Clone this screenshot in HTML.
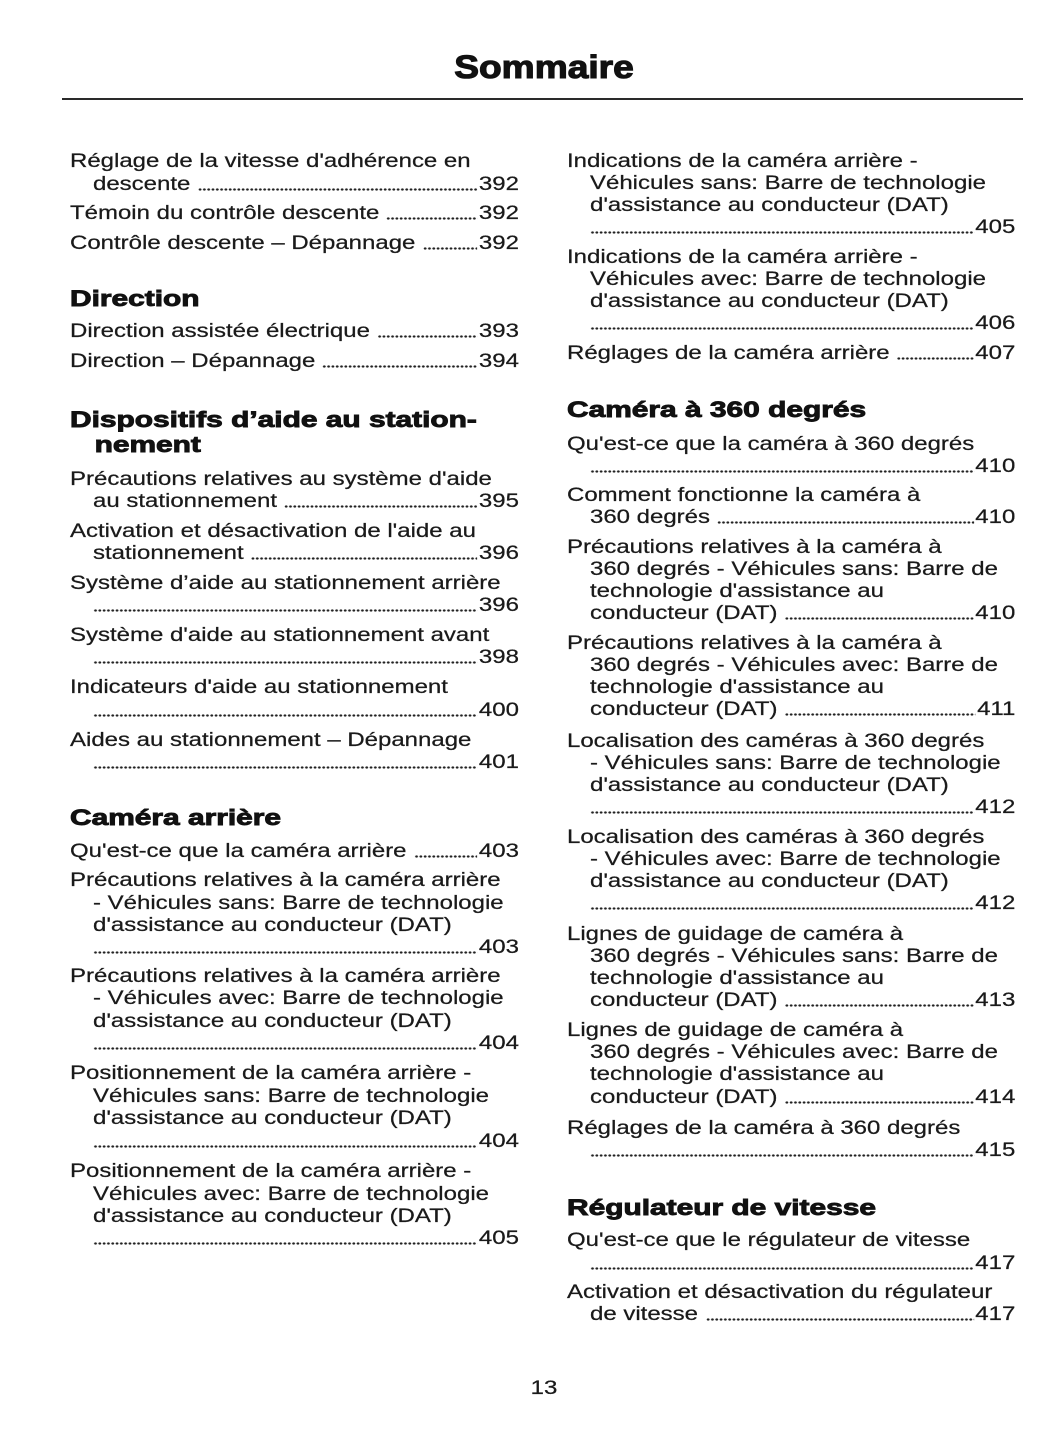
<!DOCTYPE html>
<html>
<head>
<meta charset="utf-8">
<style>
body{margin:0;background:#fff;}
#p{position:relative;width:1055px;height:1448px;overflow:hidden;background:#fff;font-family:"Liberation Sans",Arial,sans-serif;color:#1a1a1a;}
.title{position:absolute;left:543.5px;top:49.4px;font-size:32px;line-height:36px;font-weight:bold;white-space:nowrap;color:#111;-webkit-text-stroke:1.1px #111;transform:translateX(-50%) scaleX(1.16);transform-origin:50% 0;}
.rule{position:absolute;left:62px;width:961px;top:98px;height:2px;background:#2a2a2a;}
.c{position:absolute;top:0;width:365px;height:1448px;transform:scaleX(1.23);transform-origin:0 0;}
.r{position:absolute;left:0;right:0;height:22px;line-height:22px;font-size:19.5px;display:flex;white-space:nowrap;-webkit-text-stroke:0.25px #1a1a1a;}
.i{left:18.7px;}
.d{flex:1 1 auto;height:3px;margin:15.2px 1px 0 6px;background:radial-gradient(circle,#222 0.95px,rgba(255,255,255,0) 1.35px) 0 0/3.5px 3px repeat-x;}
.o{margin-left:0;}
.h{position:absolute;left:0;height:25px;line-height:25px;font-size:22.5px;font-weight:bold;white-space:nowrap;transform:scaleX(1.08);transform-origin:0 0;color:#111;-webkit-text-stroke:0.9px #111;}
.hi{left:20.3px;}
.pn{position:absolute;left:543.5px;top:1377.2px;font-size:19.5px;line-height:22px;white-space:nowrap;-webkit-text-stroke:0.25px #1a1a1a;transform:translateX(-50%) scaleX(1.23);transform-origin:50% 0;}
</style>
</head>
<body>
<div id="p">
<div class="title">Sommaire</div>
<div class="rule"></div>

<div class="c" style="left:70px;">
<div class="r" style="top:150.2px">Réglage de la vitesse d'adhérence en</div>
<div class="r i" style="top:172.7px">descente<span class="d"></span><span>392</span></div>
<div class="r" style="top:201.7px">Témoin du contrôle descente<span class="d"></span><span>392</span></div>
<div class="r" style="top:231.7px">Contrôle descente – Dépannage<span class="d"></span><span>392</span></div>

<div class="h" style="top:286.2px">Direction</div>
<div class="r" style="top:320.2px">Direction assistée électrique<span class="d"></span><span>393</span></div>
<div class="r" style="top:350.2px">Direction – Dépannage<span class="d"></span><span>394</span></div>

<div class="h" style="top:406.7px">Dispositifs d’aide au station-</div>
<div class="h hi" style="top:431.7px">nement</div>
<div class="r" style="top:467.7px">Précautions relatives au système d'aide</div>
<div class="r i" style="top:490.2px">au stationnement<span class="d"></span><span>395</span></div>
<div class="r" style="top:519.7px">Activation et désactivation de l'aide au</div>
<div class="r i" style="top:542.2px">stationnement<span class="d"></span><span>396</span></div>
<div class="r" style="top:571.7px">Système d’aide au stationnement arrière</div>
<div class="r i" style="top:594.2px"><span class="d o"></span><span>396</span></div>
<div class="r" style="top:623.7px">Système d'aide au stationnement avant</div>
<div class="r i" style="top:646.2px"><span class="d o"></span><span>398</span></div>
<div class="r" style="top:676.2px">Indicateurs d'aide au stationnement</div>
<div class="r i" style="top:698.7px"><span class="d o"></span><span>400</span></div>
<div class="r" style="top:728.7px">Aides au stationnement – Dépannage</div>
<div class="r i" style="top:751.2px"><span class="d o"></span><span>401</span></div>

<div class="h" style="top:805.2px">Caméra arrière</div>
<div class="r" style="top:839.7px">Qu'est-ce que la caméra arrière<span class="d"></span><span>403</span></div>
<div class="r" style="top:869.2px">Précautions relatives à la caméra arrière</div>
<div class="r i" style="top:891.7px">- Véhicules sans: Barre de technologie</div>
<div class="r i" style="top:913.7px">d'assistance au conducteur (DAT)</div>
<div class="r i" style="top:936.2px"><span class="d o"></span><span>403</span></div>
<div class="r" style="top:964.7px">Précautions relatives à la caméra arrière</div>
<div class="r i" style="top:987.2px">- Véhicules avec: Barre de technologie</div>
<div class="r i" style="top:1009.7px">d'assistance au conducteur (DAT)</div>
<div class="r i" style="top:1032.2px"><span class="d o"></span><span>404</span></div>
<div class="r" style="top:1062.2px">Positionnement de la caméra arrière -</div>
<div class="r i" style="top:1084.7px">Véhicules sans: Barre de technologie</div>
<div class="r i" style="top:1106.7px">d'assistance au conducteur (DAT)</div>
<div class="r i" style="top:1129.7px"><span class="d o"></span><span>404</span></div>
<div class="r" style="top:1160.2px">Positionnement de la caméra arrière -</div>
<div class="r i" style="top:1182.7px">Véhicules avec: Barre de technologie</div>
<div class="r i" style="top:1204.7px">d'assistance au conducteur (DAT)</div>
<div class="r i" style="top:1226.7px"><span class="d o"></span><span>405</span></div>
</div>

<div class="c" style="left:567px;width:364.5px;">
<div class="r" style="top:149.7px">Indications de la caméra arrière -</div>
<div class="r i" style="top:171.7px">Véhicules sans: Barre de technologie</div>
<div class="r i" style="top:193.7px">d'assistance au conducteur (DAT)</div>
<div class="r i" style="top:215.7px"><span class="d o"></span><span>405</span></div>
<div class="r" style="top:245.7px">Indications de la caméra arrière -</div>
<div class="r i" style="top:267.7px">Véhicules avec: Barre de technologie</div>
<div class="r i" style="top:289.7px">d'assistance au conducteur (DAT)</div>
<div class="r i" style="top:311.7px"><span class="d o"></span><span>406</span></div>
<div class="r" style="top:341.7px">Réglages de la caméra arrière<span class="d"></span><span>407</span></div>

<div class="h" style="top:396.7px">Caméra à 360 degrés</div>
<div class="r" style="top:432.7px">Qu'est-ce que la caméra à 360 degrés</div>
<div class="r i" style="top:454.7px"><span class="d o"></span><span>410</span></div>
<div class="r" style="top:483.7px">Comment fonctionne la caméra à</div>
<div class="r i" style="top:505.7px">360 degrés<span class="d"></span><span>410</span></div>
<div class="r" style="top:536.2px">Précautions relatives à la caméra à</div>
<div class="r i" style="top:558.2px">360 degrés - Véhicules sans: Barre de</div>
<div class="r i" style="top:579.7px">technologie d'assistance au</div>
<div class="r i" style="top:602.2px">conducteur (DAT)<span class="d"></span><span>410</span></div>
<div class="r" style="top:632.2px">Précautions relatives à la caméra à</div>
<div class="r i" style="top:654.2px">360 degrés - Véhicules avec: Barre de</div>
<div class="r i" style="top:676.2px">technologie d'assistance au</div>
<div class="r i" style="top:698.2px">conducteur (DAT)<span class="d"></span><span>411</span></div>
<div class="r" style="top:729.7px">Localisation des caméras à 360 degrés</div>
<div class="r i" style="top:751.7px">- Véhicules sans: Barre de technologie</div>
<div class="r i" style="top:773.7px">d'assistance au conducteur (DAT)</div>
<div class="r i" style="top:795.7px"><span class="d o"></span><span>412</span></div>
<div class="r" style="top:825.7px">Localisation des caméras à 360 degrés</div>
<div class="r i" style="top:847.7px">- Véhicules avec: Barre de technologie</div>
<div class="r i" style="top:869.7px">d'assistance au conducteur (DAT)</div>
<div class="r i" style="top:891.7px"><span class="d o"></span><span>412</span></div>
<div class="r" style="top:922.7px">Lignes de guidage de caméra à</div>
<div class="r i" style="top:944.7px">360 degrés - Véhicules sans: Barre de</div>
<div class="r i" style="top:966.7px">technologie d'assistance au</div>
<div class="r i" style="top:988.7px">conducteur (DAT)<span class="d"></span><span>413</span></div>
<div class="r" style="top:1018.7px">Lignes de guidage de caméra à</div>
<div class="r i" style="top:1041.2px">360 degrés - Véhicules avec: Barre de</div>
<div class="r i" style="top:1063.2px">technologie d'assistance au</div>
<div class="r i" style="top:1085.7px">conducteur (DAT)<span class="d"></span><span>414</span></div>
<div class="r" style="top:1117.2px">Réglages de la caméra à 360 degrés</div>
<div class="r i" style="top:1139.2px"><span class="d o"></span><span>415</span></div>

<div class="h" style="top:1194.7px">Régulateur de vitesse</div>
<div class="r" style="top:1229.2px">Qu'est-ce que le régulateur de vitesse</div>
<div class="r i" style="top:1251.7px"><span class="d o"></span><span>417</span></div>
<div class="r" style="top:1280.7px">Activation et désactivation du régulateur</div>
<div class="r i" style="top:1302.7px">de vitesse<span class="d"></span><span>417</span></div>
</div>

<div class="pn">13</div>
</div>
</body>
</html>
